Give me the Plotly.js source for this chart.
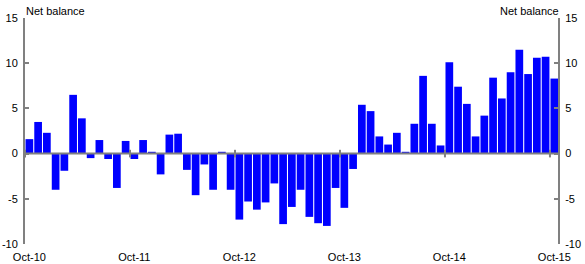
<!DOCTYPE html>
<html>
<head>
<meta charset="utf-8">
<script src="https://cdn.plot.ly/plotly-3.0.1.min.js"></script>
<style>html,body{margin:0;padding:0;background:#fff;}#chart{width:585px;height:264px;}</style>
</head>
<body>
<div id="chart"></div>
<script>
// Monthly net balance, Oct-10 to Oct-15
const months = [];
const values = [
  1.6, 3.5, 2.3, -4.0, -1.9, 6.5, 3.9, -0.5, 1.5, -0.6, -3.8, 1.4,
  -0.6, 1.5, 0.2, -2.3, 2.1, 2.2, -1.8, -4.6, -1.2, -4.0, 0.2, -4.0,
  -7.3, -5.3, -6.2, -5.4, -3.3, -7.8, -5.9, -4.0, -7.0, -7.7, -8.0, -3.8,
  -6.0, -1.7, 5.4, 4.7, 1.9, 1.0, 2.3, 0.2, 3.3, 8.6, 3.3, 0.9,
  10.1, 7.4, 5.5, 1.9, 4.2, 8.4, 6.1, 9.0, 11.5, 8.8, 10.6, 10.7,
  8.3
];
const tickPositions = [0, 12, 24, 36, 48, 60];
const tickLabels = ['Oct-10', 'Oct-11', 'Oct-12', 'Oct-13', 'Oct-14', 'Oct-15'];
const yTicks = [-10, -5, 0, 5, 10, 15];
const axisTitle = 'Net balance';

for (let i = 0; i < values.length; i++) months.push(i);

const grey = '#808080';
const font = {family: 'Liberation Sans, Arial, sans-serif', size: 11, color: '#000'};

const trace = {
  type: 'bar', x: months, y: values,
  marker: {color: '#0000ff', line: {width: 0}},
  hoverinfo: 'skip'
};
const trace2 = {type: 'scatter', x: [months[0]], y: [0], yaxis: 'y2', mode: 'markers',
  marker: {opacity: 0}, hoverinfo: 'skip', showlegend: false};

const shapes = [{
  type: 'line', xref: 'paper', yref: 'y', x0: 0, x1: 1, y0: 0, y1: 0,
  line: {color: grey, width: 2}, layer: 'above'
}];
tickPositions.forEach(p => {
  shapes.push({type: 'line', xref: 'x', yref: 'y', x0: p - 0.5, x1: p - 0.5, y0: -0.42, y1: 0.42,
    line: {color: grey, width: 2}, layer: 'above'});
});

const yCommon = {
  range: [-10, 15], tickvals: yTicks, ticktext: yTicks.map(String),
  showgrid: false, zeroline: false, showline: true, linecolor: grey, linewidth: 2,
  ticks: 'inside', ticklen: 4, tickwidth: 2, tickcolor: grey, tickfont: font, fixedrange: true,
  ticklabelstandoff: 3
};

const layout = {
  width: 585, height: 264,
  margin: {l: 25, r: 27, t: 18, b: 20},
  paper_bgcolor: '#fff', plot_bgcolor: '#fff',
  showlegend: false, bargap: 0.12,
  xaxis: {range: [-0.5, 60.42], tickvals: tickPositions, ticktext: tickLabels,
    showgrid: false, zeroline: false, showline: false, ticks: 'outside', ticklen: 3,
    tickcolor: 'rgba(0,0,0,0)', tickfont: font, fixedrange: true},
  yaxis: Object.assign({side: 'left'}, yCommon),
  yaxis2: Object.assign({side: 'right', overlaying: 'y'}, yCommon),
  shapes: shapes,
  annotations: [
    {text: axisTitle, xref: 'paper', yref: 'paper', x: 0, y: 1, xanchor: 'left', yanchor: 'bottom',
      showarrow: false, font: font, xshift: -1, yshift: -1},
    {text: axisTitle, xref: 'paper', yref: 'paper', x: 1, y: 1, xanchor: 'right', yanchor: 'bottom',
      showarrow: false, font: font, xshift: 3, yshift: -1}
  ]
};

Plotly.newPlot('chart', [trace, trace2], layout, {displayModeBar: false, staticPlot: true});
</script>
</body>
</html>
